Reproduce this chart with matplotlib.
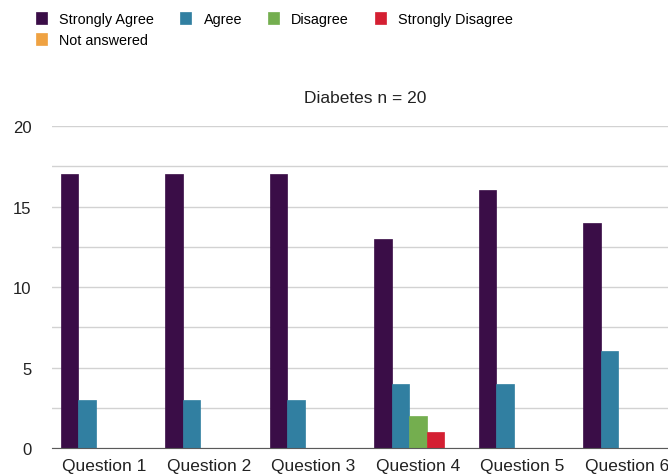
import numpy as np
import matplotlib.pyplot as plt

plt.rcParams['font.family'] = ['Liberation Sans', 'DejaVu Sans']

questions = ['Question 1', 'Question 2', 'Question 3', 'Question 4', 'Question 5', 'Question 6']
series = ['Strongly Agree', 'Agree', 'Disagree', 'Strongly Disagree', 'Not answered']
strongly_agree = [17, 17, 17, 13, 16, 14]
agree = [3, 3, 3, 4, 4, 6]
disagree = [0, 0, 0, 2, 0, 0]
strongly_disagree = [0, 0, 0, 1, 0, 0]
not_answered = [0, 0, 0, 0, 0, 0]
colors = ['#3a0d47', '#317fa1', '#74ae4f', '#d41f32', '#efa242']

values = [strongly_agree, agree, disagree, strongly_disagree, not_answered]

fig = plt.figure(figsize=(6.68, 4.77), dpi=100)
# axes run past the right edge, so the last group is clipped
ax = fig.add_axes([0.078, 0.0587, 0.9386, 0.675])

x = np.arange(len(questions))
w = 1 / 6
bars = []
for k, (name, vals) in enumerate(zip(series, values)):
    b = ax.bar(x - 2.5 * w + k * w, vals, w, color=colors[k], label=name,
               align='edge', zorder=3, edgecolor=colors[k], linewidth=0.5)
    bars.append(b)

ax.set_xlim(-0.5, 5.5)
ax.set_ylim(0, 20)
ax.set_yticks([0, 5, 10, 15, 20])
ax.set_yticks(np.arange(0, 20.1, 2.5), minor=True)
ax.grid(axis='y', which='both', color='#d2d2d2', linewidth=1, zorder=0)
ax.set_xticks(x)
ax.set_xticklabels(questions, fontsize=12.5)
ax.tick_params(axis='both', which='both', length=0, colors='#222222')
ax.tick_params(axis='y', pad=15, labelsize=12)
ax.tick_params(axis='x', pad=7)
for s in ['top', 'right', 'left']:
    ax.spines[s].set_visible(False)
ax.spines['bottom'].set_color('#5a5a5a')
ax.spines['bottom'].set_zorder(4)

ax.set_title('Diabetes n = 20', fontsize=12.5, pad=17, color='#222222')

# legend fills column by column, so order it to read across the rows
order = [0, 4, 1, 2, 3]
fig.legend([bars[i] for i in order], [series[i] for i in order], ncol=4,
           loc='upper left', bbox_to_anchor=(0.035, 1.0),
           frameon=False, fontsize=10.4, handlelength=0.75, handleheight=0.9,
           handletextpad=0.85, columnspacing=1.8, labelspacing=0.5)

fig.savefig('out.png', dpi=100)
